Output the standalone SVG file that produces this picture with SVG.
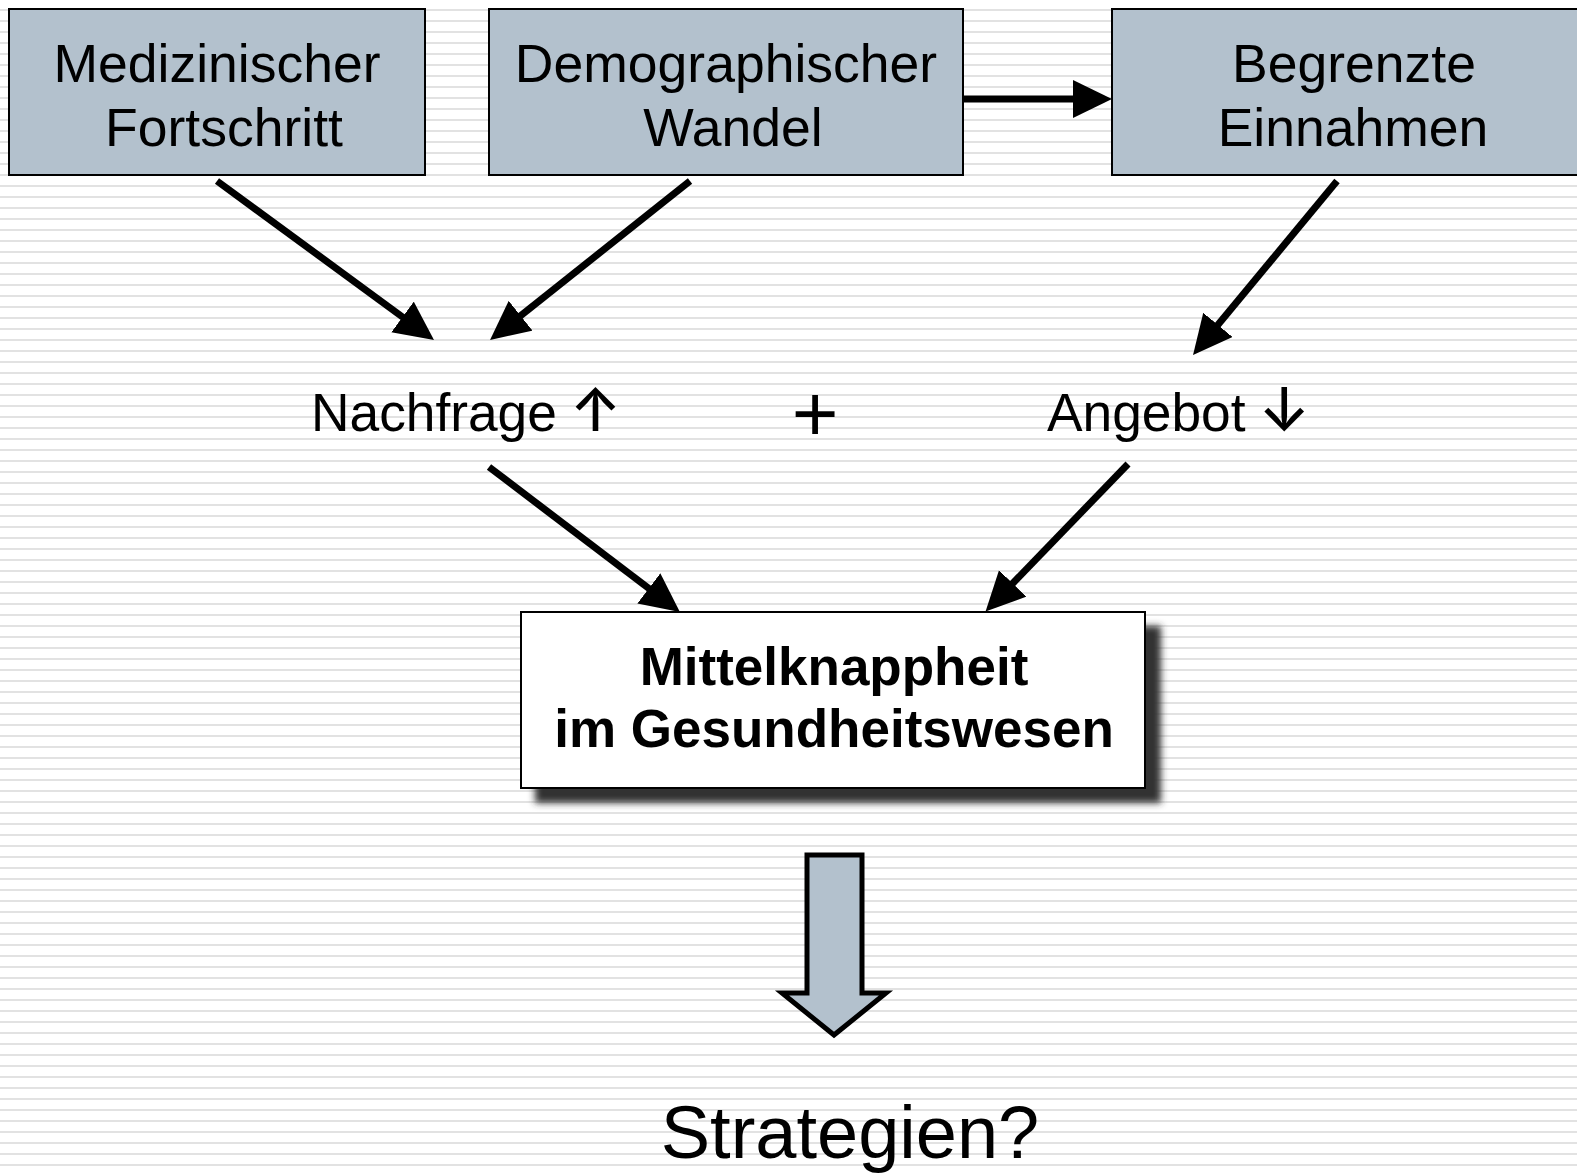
<svg xmlns="http://www.w3.org/2000/svg" width="1577" height="1175" viewBox="0 0 1577 1175">
<defs>
<pattern id="stripes" patternUnits="userSpaceOnUse" x="0" y="0" width="20" height="11">
<rect x="0" y="0" width="20" height="11" fill="#ffffff"/>
<rect x="0" y="9" width="20" height="2" fill="#e2e2e2"/>
</pattern>
<marker id="ah" markerUnits="userSpaceOnUse" markerWidth="40" markerHeight="40" viewBox="0 0 40 40" refX="8" refY="19" orient="auto">
<path d="M0,0 L39,19 L0,38 Z" fill="#000"/>
</marker>
<filter id="shadow" x="-10%" y="-20%" width="130%" height="150%">
<feGaussianBlur stdDeviation="3.5"/>
</filter>
</defs>
<style>
.box{fill:#b3c1cd;stroke:#000;stroke-width:2}
.t{font-family:"Liberation Sans",Arial,sans-serif;font-size:53.5px;fill:#000;text-anchor:middle}
.lbl{font-family:"Liberation Sans",Arial,sans-serif;font-size:53.3px;fill:#000}
.arr{font-family:Inter,sans-serif;font-size:60px;font-weight:500}
.b{font-family:"Liberation Sans",Arial,sans-serif;font-size:53px;font-weight:bold;fill:#000;text-anchor:middle}
.c{stroke:#000;stroke-width:7;fill:none;marker-end:url(#ah)}
</style>
<rect x="0" y="0" width="1577" height="1175" fill="url(#stripes)"/>

<g id="node-medizin">
<rect class="box" x="9" y="9" width="416" height="166"/>
<text class="t" x="217" y="82">Medizinischer</text>
<text class="t" x="224" y="146">Fortschritt</text>
</g>
<g id="node-demographie">
<rect class="box" x="489" y="9" width="474" height="166"/>
<text class="t" x="726" y="82">Demographischer</text>
<text class="t" x="733" y="146">Wandel</text>
</g>
<g id="node-einnahmen">
<rect class="box" x="1112" y="9" width="480" height="166"/>
<text class="t" x="1354" y="82">Begrenzte</text>
<text class="t" x="1353" y="146">Einnahmen</text>
</g>

<g id="node-nachfrage">
<text class="lbl" x="311" y="431">Nachfrage <tspan class="arr" dx="-2">↑</tspan></text>
</g>
<g id="node-plus">
<text x="815" y="441" style="font-family:'Liberation Sans',Arial,sans-serif;font-size:80px;fill:#000;text-anchor:middle">+</text>
</g>
<g id="node-angebot">
<text class="lbl" x="1047" y="431">Angebot <tspan class="arr" dx="-2">↓</tspan></text>
</g>

<g id="node-mittelknappheit">
<rect x="535" y="626" width="626" height="177" fill="#333" filter="url(#shadow)"/>
<rect x="521" y="612" width="624" height="176" fill="#fff" stroke="#000" stroke-width="2"/>
<text class="b" x="834" y="685">Mittelknappheit</text>
<text class="b" x="834" y="747">im Gesundheitswesen</text>
</g>

<g id="node-bigarrow">
<path d="M807,855 L862,855 L862,993 L886,993 L834,1035 L782,993 L807,993 Z" fill="#b3c1cd" stroke="#000" stroke-width="5" stroke-linejoin="miter"/>
</g>

<g id="node-strategien">
<text x="850" y="1158" style="font-family:'Liberation Sans',Arial,sans-serif;font-size:74px;fill:#000;text-anchor:middle">Strategien?</text>
</g>

<g id="connectors">
<line class="c" x1="963" y1="99" x2="1081" y2="99"/>
<line class="c" x1="217" y1="181" x2="409" y2="321.7"/>
<line class="c" x1="690" y1="181" x2="514.3" y2="320.7"/>
<line class="c" x1="1337" y1="181" x2="1212.8" y2="331.1"/>
<line class="c" x1="489" y1="467" x2="655.2" y2="593.3"/>
<line class="c" x1="1128" y1="464" x2="1007.1" y2="589.2"/>
</g>
</svg>
